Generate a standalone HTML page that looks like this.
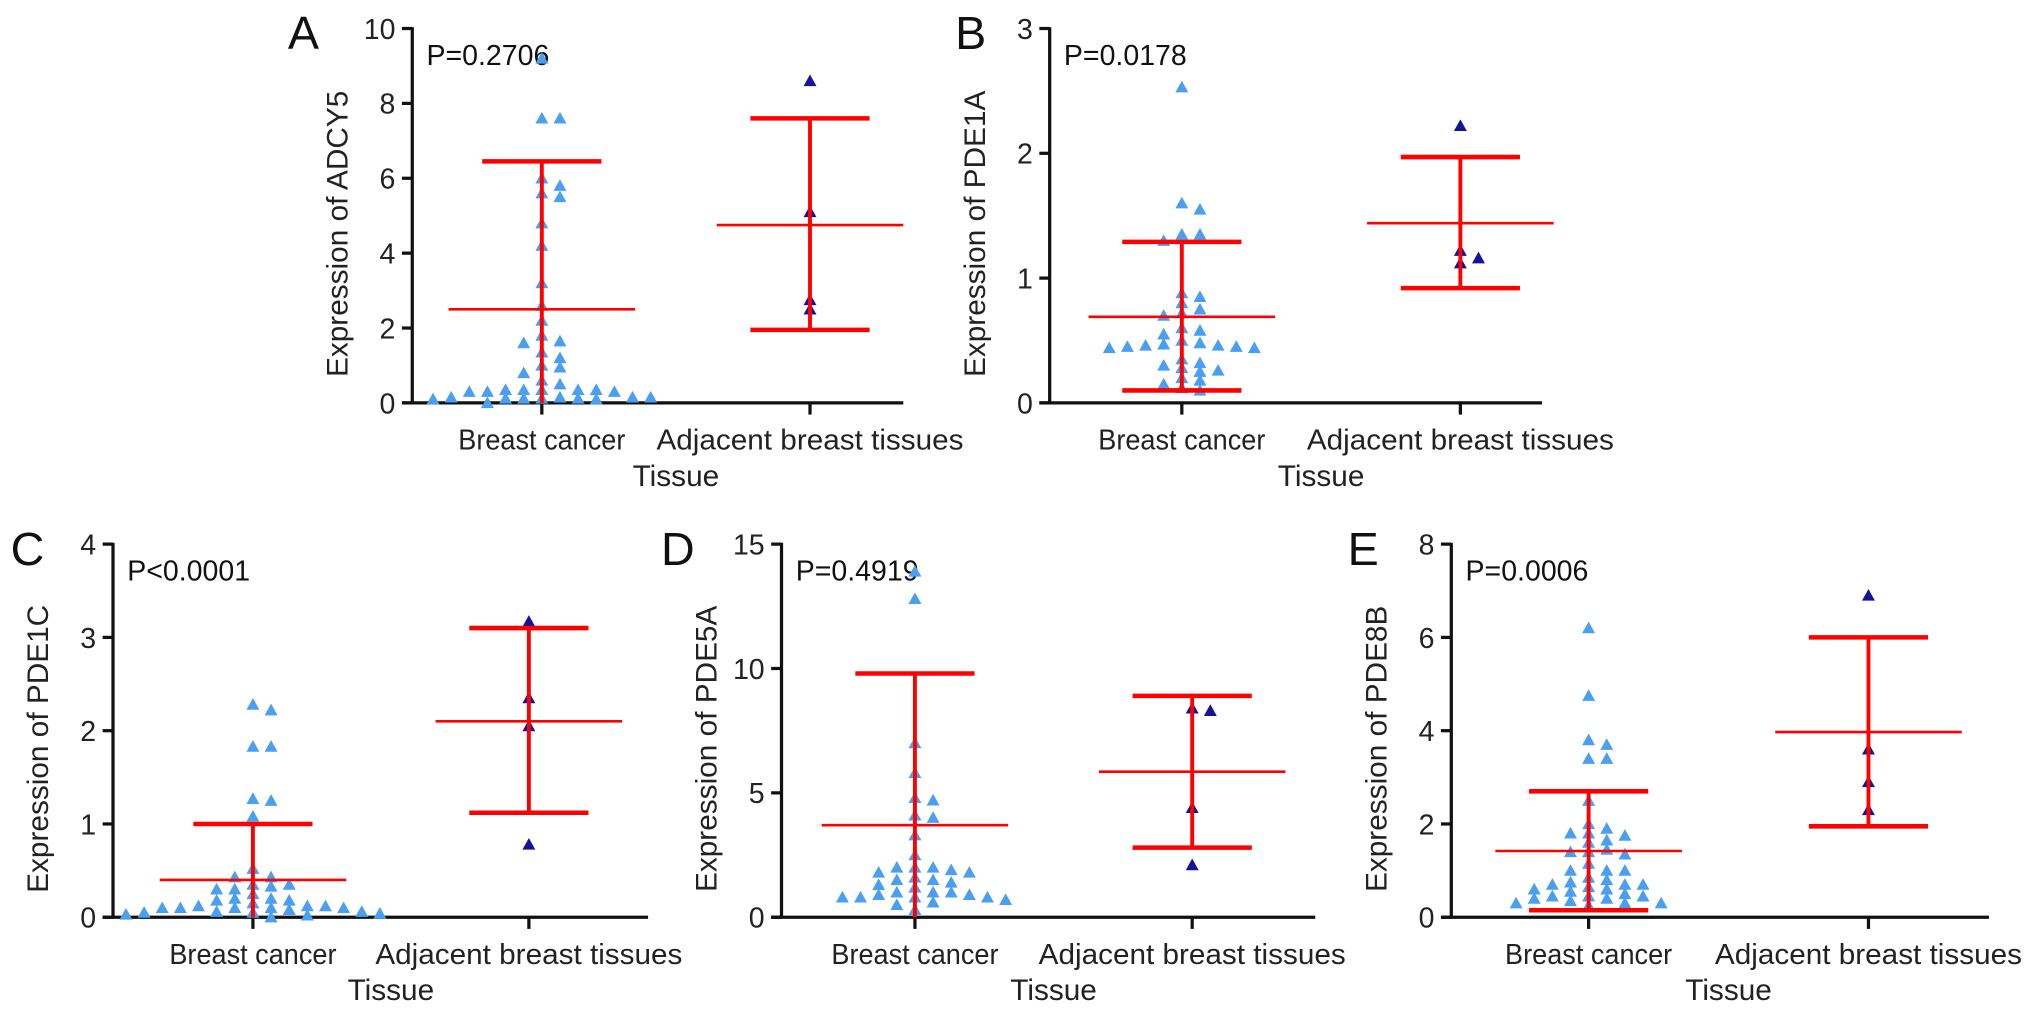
<!DOCTYPE html>
<html><head><meta charset="utf-8"><style>
html,body{margin:0;padding:0;background:#fff;}
svg{display:block;font-family:"Liberation Sans",Arial,sans-serif;}
</style></head><body>
<svg id="fig" width="2032" height="1017" viewBox="0 0 1568 785" xmlns="http://www.w3.org/2000/svg"></svg>
<script>
// ---- data ----
const panelLetters = ["A","B","C","D","E"];
const genes = ["ADCY5","PDE1A","PDE1C","PDE5A","PDE8B"];
const pValues = ["P=0.2706","P=0.0178","P<0.0001","P=0.4919","P=0.0006"];
const categories = ["Breast cancer","Adjacent breast tissues"];
const yMaxes = [10,3,4,15,8];
const yTickStepA = [2,1,1,5,2];
const cancerA = [9.2,7.6,7.6,6.0,5.8,5.6,5.5,4.8,4.2,3.2,2.6,2.2,1.8,1.65,1.6,1.35,1.2,1.0,0.95,0.8,0.6,0.5,0.35,0.35,0.35,0.35,0.35,0.3,0.3,0.3,0.15,0.15,0.15,0.15,0.12,0.12,0.12,0.12,0.1,0.1,0.0];
const adjA = [8.6,5.1,2.5,2.75];
const cancerB = [2.53,1.6,1.55,1.35,1.35,1.3,0.88,0.85,0.8,0.75,0.72,0.7,0.6,0.58,0.55,0.5,0.48,0.47,0.46,0.46,0.45,0.45,0.44,0.44,0.35,0.32,0.3,0.28,0.26,0.25,0.2,0.18,0.15,0.12,0.1];
const adjB = [2.22,1.22,1.12,1.16];
const cancerC = [2.28,2.22,1.83,1.83,1.27,1.25,1.08,0.52,0.43,0.43,0.35,0.35,0.33,0.3,0.3,0.25,0.2,0.2,0.18,0.18,0.15,0.12,0.12,0.12,0.1,0.1,0.1,0.1,0.1,0.08,0.06,0.06,0.05,0.05,0.04,0.03,0.02,0.0];
const adjC = [3.17,2.35,2.05,0.78];
const cancerD = [13.9,12.8,7.0,5.8,4.8,4.7,4.1,4.0,3.3,2.5,2.0,2.0,2.0,1.9,1.8,1.8,1.6,1.5,1.5,1.4,1.3,1.2,1.0,1.0,1.0,0.9,0.9,0.8,0.8,0.8,0.8,0.7,0.6,0.5,0.3];
const adjD = [8.4,8.3,4.4,2.1];
const cancerE = [6.2,4.75,3.8,3.7,3.4,3.4,2.5,2.0,1.9,1.8,1.75,1.8,1.65,1.6,1.45,1.4,1.4,1.35,1.15,1.0,1.0,1.0,0.85,0.8,0.75,0.7,0.7,0.7,0.65,0.6,0.6,0.55,0.5,0.45,0.45,0.45,0.4,0.4,0.35,0.3,0.3,0.3,0.25];
const adjE = [6.9,3.6,2.9,2.3];
const cancerSeries = [cancerA,cancerB,cancerC,cancerD,cancerE];
const adjSeries = [adjA,adjB,adjC,adjD,adjE];
const cancerMean = [2.5,0.69,0.4,3.7,1.42];
const cancerLow = [0,0.1,0,0,0.15];
const cancerHigh = [6.45,1.29,1.0,9.8,2.7];
const adjMean = [4.75,1.44,2.1,5.85,3.97];
const adjLow = [1.95,0.92,1.12,2.8,1.95];
const adjHigh = [7.6,1.97,3.1,8.9,6.0];

// ---- layout (in 1568x785 viewBox units) ----
const layout = [
 {ax:318,y0:311,yT:22,xe:697,c1:418,c2:625,lx:222},
 {ax:810,y0:311,yT:22,xe:1190,c1:912,c2:1127,lx:737},
 {ax:87,y0:708,yT:420,xe:500,c1:195,c2:408,lx:8},
 {ax:603,y0:708,yT:420,xe:1015,c1:706,c2:920,lx:510},
 {ax:1120,y0:708,yT:420,xe:1535,c1:1226,c2:1442,lx:1040}
];
const NS="http://www.w3.org/2000/svg";
const svg=document.getElementById('fig');
function mk(tag,attrs,parent){const e=document.createElementNS(NS,tag);for(const k in attrs)e.setAttribute(k,attrs[k]);(parent||svg).appendChild(e);return e;}

function swarm(vals,cx,yf){
  const placed=[];const step=14,dy=6.5;
  const sorted=vals.slice().sort((a,b)=>b-a);
  sorted.forEach(v=>{
    const y=yf(v);
    for(let k=0;k<30;k++){
      const off=k===0?0:(k%2?1:-1)*Math.ceil(k/2)*step;
      const x=cx+off;
      if(!placed.some(p=>Math.abs(p.y-y)<dy&&Math.abs(p.x-x)<step-1)){placed.push({x,y});break;}
    }
  });
  return placed;
}

layout.forEach((L,i)=>{
  const g=mk('g',{});
  
  
  const yf=v=>L.y0-(v/yMaxes[i])*(L.y0-L.yT);
  const lt=mk('text',{x:L.lx,y:L.yT+16,'font-size':36,fill:'#111'},g);lt.textContent=panelLetters[i];
  
  
  const ya=mk('line',{x1:L.ax,y1:L.yT-1,x2:L.ax,y2:L.y0,stroke:'#111','stroke-width':2.5},g);
  
  
  const xa=mk('line',{x1:L.ax-8,y1:L.y0,x2:L.xe,y2:L.y0,stroke:'#111','stroke-width':2.5},g);
  
  
  for(let t=0;t<=yMaxes[i];t+=yTickStepA[i]){
    const y=yf(t);
    mk('line',{x1:L.ax-8,y1:y,x2:L.ax,y2:y,stroke:'#111','stroke-width':2.5},g);
    const tl=mk('text',{x:L.ax-13,y:y+8,'font-size':22,'text-anchor':'end',fill:'#222'},g);
    tl.textContent=String(t);
    
    
  }
  const ymid=(L.y0+L.yT)/2;
  const yt=mk('text',{x:0,y:0,'font-size':23,'text-anchor':'middle',fill:'#222',transform:`translate(${L.ax-50},${ymid+14}) rotate(-90)`},g);
  yt.textContent='Expression of '+genes[i];
  
  
  const pt=mk('text',{x:L.ax+11,y:L.yT+28,'font-size':22,fill:'#111'},g);
  pt.textContent=pValues[i];
  
  
  [L.c1,L.c2].forEach((cx,j)=>{
    mk('line',{x1:cx,y1:L.y0,x2:cx,y2:L.y0+9,stroke:'#111','stroke-width':2.5},g);
    const ct=mk('text',{x:cx,y:L.y0+36,'font-size':22,'text-anchor':'middle',fill:'#222',textLength:j?237:129,lengthAdjust:'spacingAndGlyphs'},g);
    ct.textContent=categories[j];
    
    
  });
  const xt=mk('text',{x:(L.c1+L.c2)/2,y:L.y0+64,'font-size':23,'text-anchor':'middle',fill:'#222'},g);
  xt.textContent='Tissue';
  
  
  [[cancerSeries[i],L.c1,'#4a9ff0'],[adjSeries[i],L.c2,'#14149a']].forEach(([vals,cx,col])=>{
    swarm(vals,cx,yf).forEach(p=>{
      const tri=mk('polygon',{points:`${p.x},${p.y-5} ${p.x-5},${p.y+4} ${p.x+5},${p.y+4}`,fill:col},g);
      
      
    });
  });
  [[L.c1,cancerMean[i],cancerLow[i],cancerHigh[i]],[L.c2,adjMean[i],adjLow[i],adjHigh[i]]].forEach(([cx,m,lo,hi])=>{
    const eb=mk('g',{},g);
    
    
    mk('line',{x1:cx,y1:yf(lo),x2:cx,y2:yf(hi),stroke:'#f00','stroke-width':3},eb);
    mk('line',{x1:cx-46,y1:yf(hi),x2:cx+46,y2:yf(hi),stroke:'#f00','stroke-width':3.5},eb);
    if(lo>0)mk('line',{x1:cx-46,y1:yf(lo),x2:cx+46,y2:yf(lo),stroke:'#f00','stroke-width':3.5},eb);
    const ml=mk('line',{x1:cx-72,y1:yf(m),x2:cx+72,y2:yf(m),stroke:'#f00','stroke-width':2},eb);
    
    
  });
});
</script>
</body></html>
